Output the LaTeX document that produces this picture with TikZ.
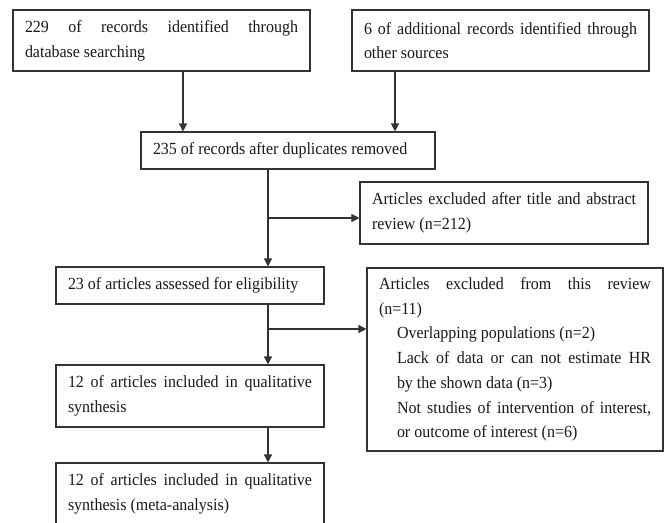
\documentclass[tikz,border=0pt]{standalone}
\usepackage{fontspec}
\setmainfont[FakeStretch=0.94]{Liberation Serif}
\usetikzlibrary{arrows.meta}
\begin{document}
\begin{tikzpicture}[x=1pt,y=-1pt,
  boxstyle/.style={draw=black!80, line width=1.1pt, rectangle, inner xsep=12pt, inner ysep=2pt,
    align=justify, anchor=center, text=black!90,
    font={\fontsize{17}{24.7}\selectfont\parindent=0pt}},
  arr/.style={draw=black!80, line width=1.3pt, -{Triangle[length=8pt,width=8pt]}},
  ln/.style={draw=black!80, line width=1.3pt}]
\useasboundingbox (0,0) rectangle (668,522);
\fill[white] (0,0) rectangle (668,522);
\clip (0,0) rectangle (668,522);

\node[boxstyle, text width=273pt, minimum width=297pt, minimum height=61pt] (b1) at (161.5,40.5)
  {229 of records identified through\linebreak database searching};
\node[boxstyle, text width=273pt, minimum width=297pt, minimum height=61pt] (b2) at (500.5,40.5)
  {6 of additional records identified through\linebreak other sources};
\node[boxstyle, text width=270pt, minimum width=294pt, minimum height=37pt] (b3) at (288,150.5)
  {235 of records after duplicates removed};
\node[boxstyle, text width=264pt, minimum width=288pt, minimum height=62pt] (e1) at (504,213)
  {Articles excluded after title and abstract\linebreak review (n=212)};
\node[boxstyle, text width=244pt, minimum width=268pt, minimum height=37pt] (b4) at (190,285.5)
  {23 of articles assessed for eligibility};
\node[boxstyle, text width=272pt, minimum width=296pt, minimum height=183pt] (e2) at (515,359.5)
  {Articles excluded from this review\linebreak (n=11)\par
   \leftskip=18pt
   Overlapping populations (n=2)\par
   Lack of data or can not estimate HR\linebreak by the shown data (n=3)\par
   Not studies of intervention of interest,\linebreak or outcome of interest (n=6)\par};
\node[boxstyle, text width=244pt, minimum width=268pt, minimum height=62pt] (b5) at (190,396)
  {12 of articles included in qualitative\linebreak synthesis};
\node[boxstyle, text width=244pt, minimum width=268pt, minimum height=62pt] (b6) at (190,494)
  {12 of articles included in qualitative\linebreak synthesis (meta-analysis)};

\coordinate (j1) at (268,218);
\coordinate (j2) at (268,329);

\draw[arr] ([xshift=21.5pt]b1.south) -- ([xshift=21.5pt]b1.south |- b3.north);
\draw[arr] ([xshift=-105.5pt]b2.south) -- ([xshift=-105.5pt]b2.south |- b3.north);
\draw[arr] ([xshift=-20pt]b3.south) -- ([xshift=-20pt]b3.south |- b4.north);
\draw[arr] (j1) -- (j1 -| e1.west);
\draw[arr] ([xshift=78pt]b4.south) -- ([xshift=78pt]b4.south |- b5.north);
\draw[arr] (j2) -- (j2 -| e2.west);
\draw[arr] ([xshift=78pt]b5.south) -- ([xshift=78pt]b5.south |- b6.north);
\end{tikzpicture}
\end{document}
